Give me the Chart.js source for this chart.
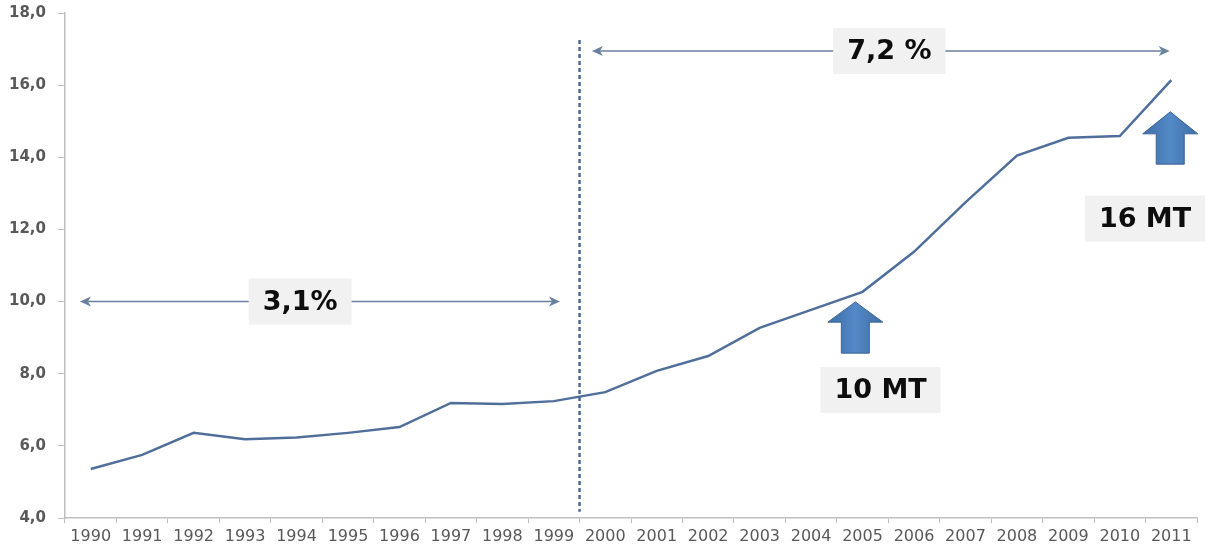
<!DOCTYPE html>
<html>
<head>
<meta charset="utf-8">
<script src="https://cdn.jsdelivr.net/npm/chart.js@4"></script>
<style>
  html, body { margin: 0; padding: 0; background: #fff; }
  canvas { display: block; }
</style>
</head>
<body>
<canvas id="chart" width="1208" height="552"></canvas>
<script>
// values
const years = ["1990", "1991", "1992", "1993", "1994", "1995", "1996", "1997", "1998", "1999", "2000",
  "2001", "2002", "2003", "2004", "2005", "2006", "2007", "2008", "2009", "2010", "2011"];
const volumes = [5.36, 5.75, 6.36, 6.18, 6.23, 6.36, 6.52, 7.19, 7.16, 7.24, 7.49,
  8.08, 8.49, 9.27, 9.77, 10.27, 11.38, 12.75, 14.05, 14.54, 14.59, 16.14];
const yMin = 4;
const yMax = 18;
const yStep = 2;

// annotations, placed in axis units (category index / value)
const spanArrows = [
  { from: -0.21, to: 9.12, y: 10.0, label: "3,1%", labelAt: 4.07 },
  { from: 9.74, to: 20.97, y: 16.95, label: "7,2 %", labelAt: 15.52 },
];
const blockArrows = [
  { at: 14.86, tip: 9.99, headBase: 9.43, bottom: 8.57, label: "10 MT", labelX: 15.35, labelY: 7.55 },
  { at: 20.98, tip: 15.26, headBase: 14.65, bottom: 13.81, label: "16 MT", labelX: 20.49, labelY: 12.3 },
];
const splitAt = 9.5; // between 1999 and 2000

const textGray = "#595959";
const axisGray = "#bfbfbf";

function drawLabelBox(ctx, text, cx, cy) {
  ctx.font = "bold 27px 'DejaVu Sans'";
  const w = ctx.measureText(text).width + 28;
  const h = 46;
  ctx.fillStyle = "#f1f1f1";
  ctx.fillRect(cx - w / 2, cy - h / 2, w, h);
  ctx.fillStyle = "#0d0d0d";
  ctx.textAlign = "center";
  ctx.textBaseline = "middle";
  ctx.fillText(text, cx, cy + 1);
}

function arrowHead(ctx, x, y, dir) {
  ctx.beginPath();
  ctx.moveTo(x, y);
  ctx.lineTo(x - dir * 11, y - 5);
  ctx.lineTo(x - dir * 8, y);
  ctx.lineTo(x - dir * 11, y + 5);
  ctx.closePath();
  ctx.fill();
}

const annotations = {
  id: "annotations",
  afterDatasetsDraw(chart) {
    const ctx = chart.ctx;
    const xs = chart.scales.x;
    const ys = chart.scales.y;
    ctx.save();

    // dashed split line
    const sx = xs.getPixelForValue(splitAt);
    ctx.strokeStyle = "#4a6a92";
    ctx.lineWidth = 2.5;
    ctx.setLineDash([4, 3]);
    ctx.beginPath();
    ctx.moveTo(sx, ys.getPixelForValue(17.25));
    ctx.lineTo(sx, ys.getPixelForValue(4.17));
    ctx.stroke();
    ctx.setLineDash([]);

    // double arrows with growth labels
    spanArrows.forEach((a) => {
      const x1 = xs.getPixelForValue(a.from);
      const x2 = xs.getPixelForValue(a.to);
      const y = ys.getPixelForValue(a.y);
      ctx.strokeStyle = "#6a819e";
      ctx.fillStyle = "#6a819e";
      ctx.lineWidth = 1.5;
      ctx.beginPath();
      ctx.moveTo(x1 + 8, y);
      ctx.lineTo(x2 - 8, y);
      ctx.stroke();
      arrowHead(ctx, x1, y, -1);
      arrowHead(ctx, x2, y, 1);
      drawLabelBox(ctx, a.label, xs.getPixelForValue(a.labelAt), y);
    });

    // block arrows
    blockArrows.forEach((b) => {
      const cx = xs.getPixelForValue(b.at);
      const tip = ys.getPixelForValue(b.tip);
      const base = ys.getPixelForValue(b.headBase);
      const bottom = ys.getPixelForValue(b.bottom);
      const grad = ctx.createLinearGradient(cx - 27, 0, cx + 27, 0);
      grad.addColorStop(0, "#3f6fa8");
      grad.addColorStop(0.5, "#5289c6");
      grad.addColorStop(1, "#3f6fa8");
      ctx.fillStyle = grad;
      ctx.strokeStyle = "#3a6496";
      ctx.lineWidth = 1;
      ctx.beginPath();
      ctx.moveTo(cx, tip);
      ctx.lineTo(cx + 27.5, base);
      ctx.lineTo(cx + 14, base);
      ctx.lineTo(cx + 14, bottom);
      ctx.lineTo(cx - 14, bottom);
      ctx.lineTo(cx - 14, base);
      ctx.lineTo(cx - 27.5, base);
      ctx.closePath();
      ctx.fill();
      ctx.stroke();
      drawLabelBox(ctx, b.label, xs.getPixelForValue(b.labelX), ys.getPixelForValue(b.labelY));
    });

    ctx.restore();
  },
};

const ctx = document.getElementById("chart").getContext("2d");
new Chart(ctx, {
  type: "line",
  data: {
    labels: years,
    datasets: [
      {
        data: volumes,
        borderColor: "#4f6f9a",
        borderWidth: 2.5,
        pointRadius: 0,
        tension: 0,
        fill: false,
      },
    ],
  },
  options: {
    responsive: false,
    animation: false,
    events: [],
    layout: { padding: { top: 13, right: 11, left: 0, bottom: 0 } },
    plugins: { legend: { display: false }, tooltip: { enabled: false } },
    scales: {
      x: {
        offset: true,
        grid: { drawOnChartArea: false, tickLength: 5, color: axisGray, offset: true },
        border: { color: axisGray, width: 1.5 },
        ticks: {
          color: textGray,
          font: { family: "'DejaVu Sans'", size: 16 },
          padding: 4,
          maxRotation: 0,
          autoSkip: false,
        },
        afterFit(scale) {
          scale.height = 34;
          scale.paddingLeft = 0;
          scale.paddingRight = 0;
        },
      },
      y: {
        min: yMin,
        max: yMax,
        grid: { drawOnChartArea: false, tickLength: 7, color: axisGray },
        border: { color: axisGray, width: 1.5 },
        ticks: {
          stepSize: yStep,
          color: textGray,
          font: { family: "'DejaVu Sans'", size: 15, weight: "bold" },
          padding: 12,
          callback: (v) => v.toFixed(1).replace(".", ","),
        },
        afterFit(scale) {
          scale.width = 65;
          scale.paddingTop = 0;
          scale.paddingBottom = 0;
        },
      },
    },
  },
  plugins: [annotations],
});
</script>
</body>
</html>
